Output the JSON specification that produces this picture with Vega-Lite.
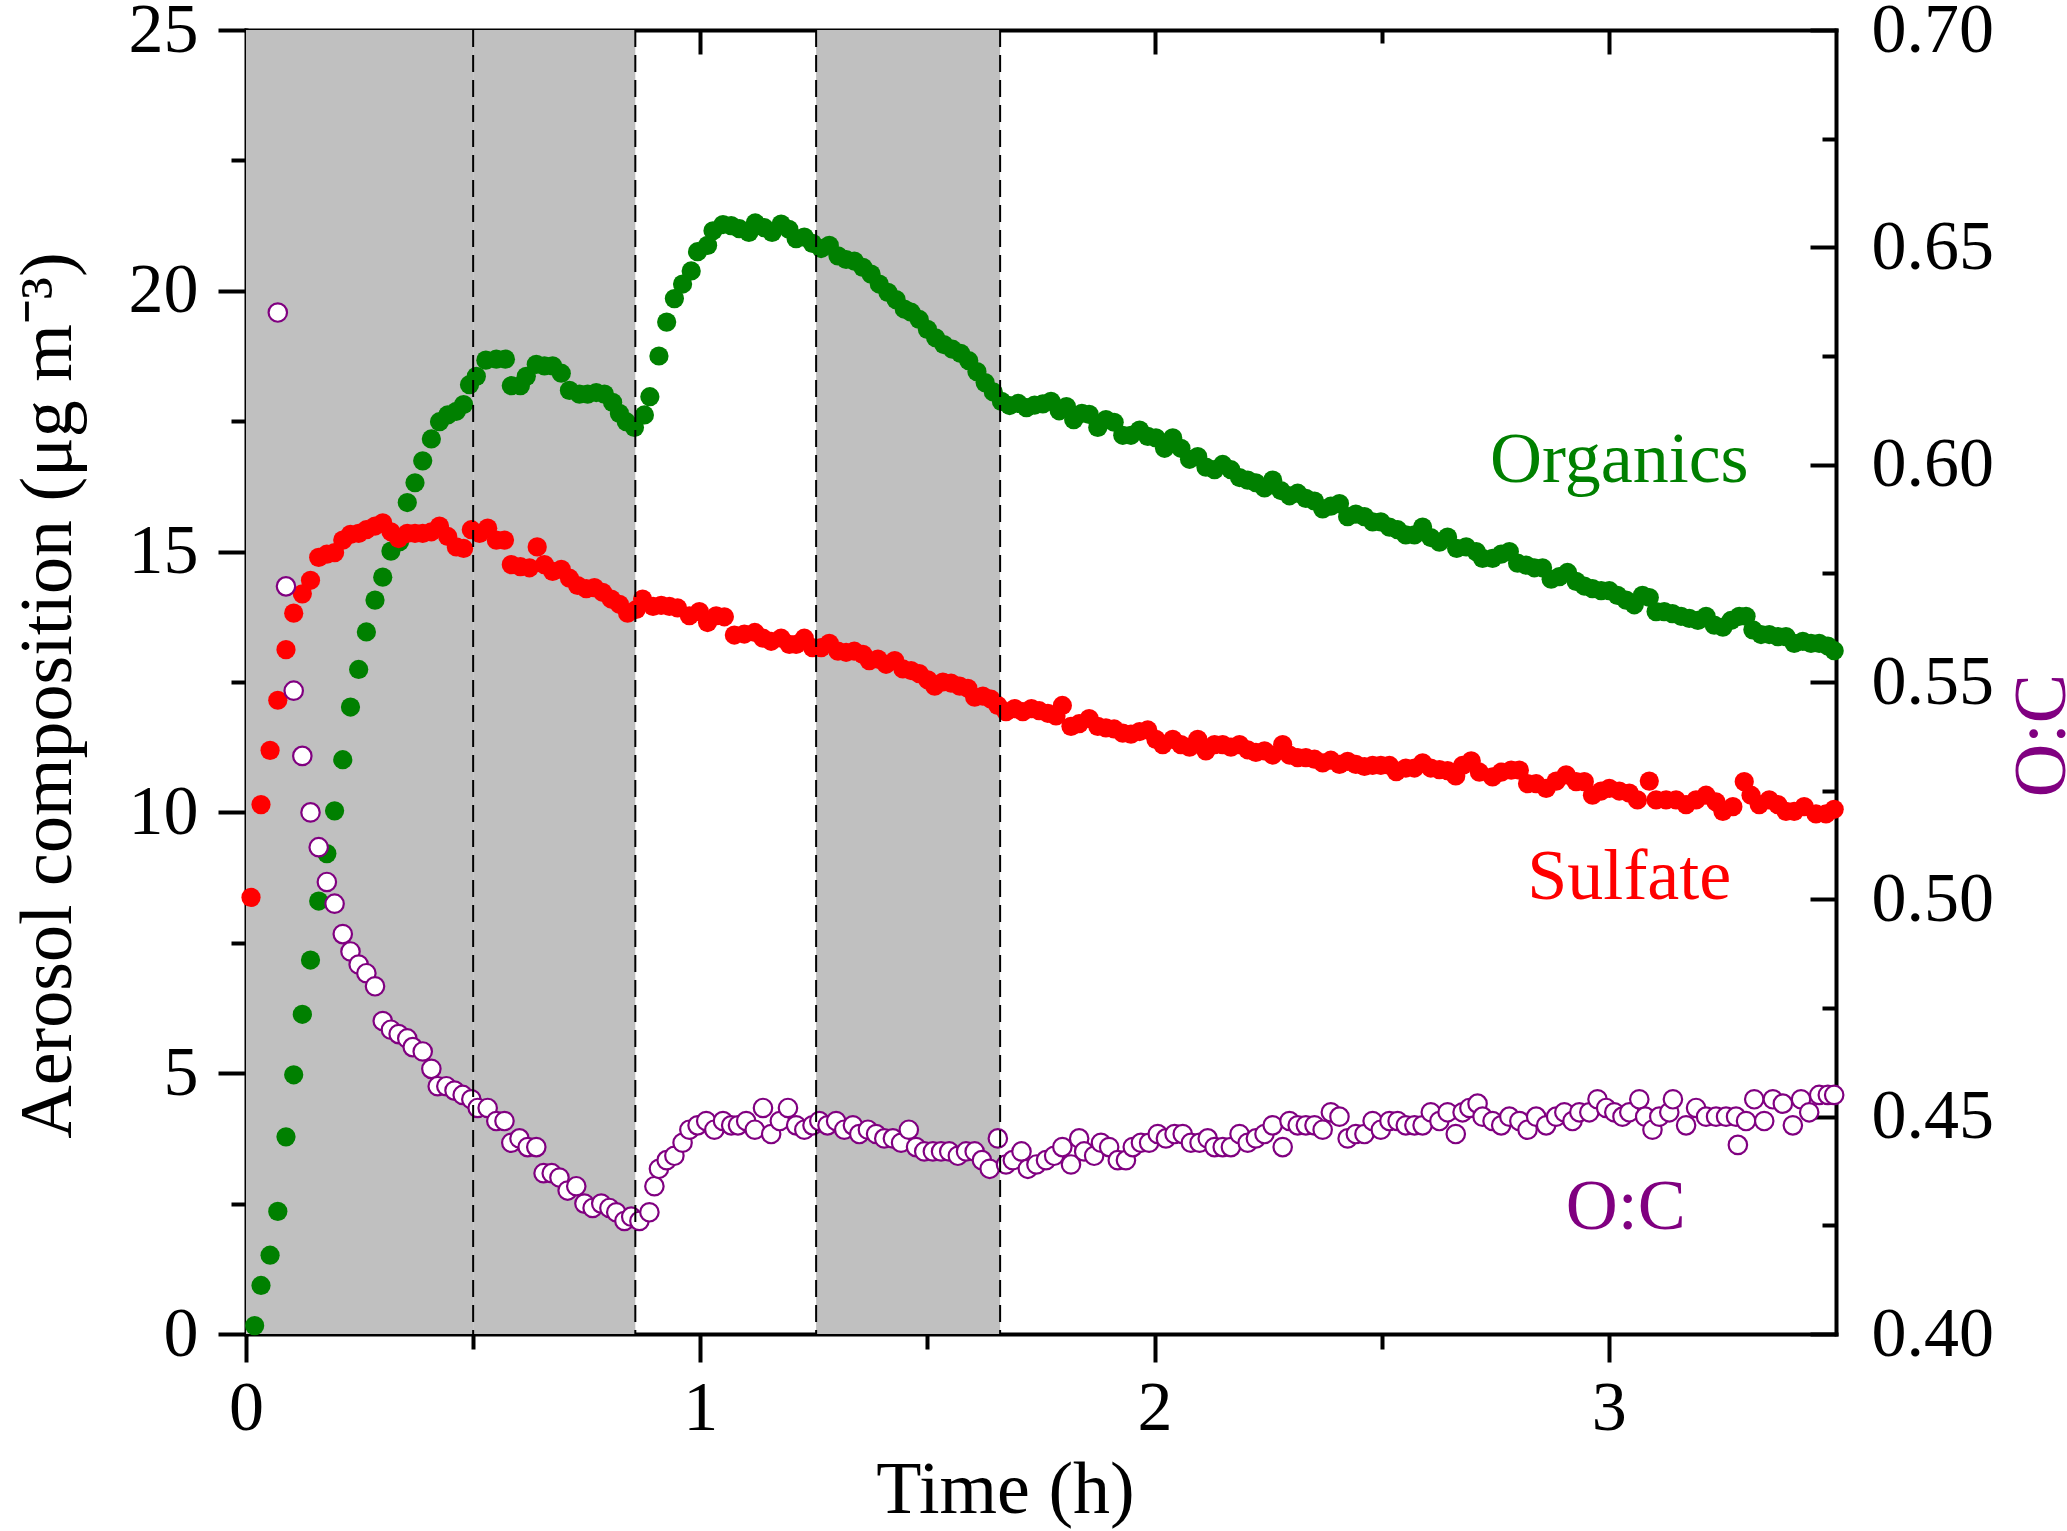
{
  "$schema": "https://vega.github.io/schema/vega-lite/v6.json",
  "width": 1590,
  "height": 1304,
  "autosize": {"type": "none"},
  "padding": {"left": 246, "top": 30, "right": 231, "bottom": 197},
  "background": "white",
  "config": {
    "view": {"stroke": null},
    "font": "Liberation Serif",
    "axis": {
      "grid": false,
      "zindex": 1,
      "domainColor": "black",
      "domainWidth": 4,
      "domainCap": "square",
      "tickColor": "black",
      "tickWidth": 4,
      "labelFont": "Liberation Serif",
      "labelFontSize": 70,
      "labelColor": "black",
      "labelOverlap": false,
      "labelFlush": false,
      "titleFont": "Liberation Serif",
      "titleFontSize": 74,
      "titleFontWeight": "normal",
      "titleColor": "black"
    }
  },
  "datasets": {
    "shading": [
      {"start": 0, "end": 0.5},
      {"start": 0.5, "end": 0.857},
      {"start": 1.255, "end": 1.66}
    ],
    "markers": [{"t": 0.5}, {"t": 0.857}, {"t": 1.255}, {"t": 1.66}],
    "organics": [
      {"t":0.019,"v":0.16},{"t":0.033,"v":0.93},{"t":0.053,"v":1.51},{"t":0.070,"v":2.35},{"t":0.088,"v":3.78},{"t":0.105,"v":4.97},{"t":0.124,"v":6.13},{"t":0.142,"v":7.17},{"t":0.160,"v":8.30},{"t":0.178,"v":9.21},
      {"t":0.195,"v":10.03},{"t":0.213,"v":11.01},{"t":0.230,"v":12.02},{"t":0.248,"v":12.74},{"t":0.265,"v":13.46},{"t":0.284,"v":14.07},{"t":0.301,"v":14.51},{"t":0.319,"v":15.01},{"t":0.338,"v":15.19},{"t":0.355,"v":15.94},
      {"t":0.372,"v":16.32},{"t":0.389,"v":16.74},{"t":0.408,"v":17.16},{"t":0.426,"v":17.49},{"t":0.444,"v":17.62},{"t":0.463,"v":17.69},{"t":0.479,"v":17.82},{"t":0.492,"v":18.20},{"t":0.507,"v":18.36},{"t":0.528,"v":18.67},
      {"t":0.551,"v":18.69},{"t":0.571,"v":18.69},{"t":0.584,"v":18.18},{"t":0.604,"v":18.18},{"t":0.617,"v":18.36},{"t":0.639,"v":18.59},{"t":0.657,"v":18.56},{"t":0.675,"v":18.56},{"t":0.694,"v":18.42},{"t":0.712,"v":18.09},
      {"t":0.734,"v":18.02},{"t":0.752,"v":18.02},{"t":0.771,"v":18.05},{"t":0.789,"v":18.02},{"t":0.807,"v":17.86},{"t":0.822,"v":17.65},{"t":0.837,"v":17.49},{"t":0.855,"v":17.38},{"t":0.877,"v":17.62},{"t":0.889,"v":17.97},
      {"t":0.909,"v":18.75},{"t":0.926,"v":19.40},{"t":0.943,"v":19.85},{"t":0.961,"v":20.13},{"t":0.980,"v":20.38},{"t":0.994,"v":20.75},{"t":1.016,"v":20.87},{"t":1.028,"v":21.15},{"t":1.050,"v":21.27},{"t":1.068,"v":21.25},
      {"t":1.086,"v":21.19},{"t":1.107,"v":21.12},{"t":1.121,"v":21.30},{"t":1.141,"v":21.21},{"t":1.158,"v":21.12},{"t":1.178,"v":21.28},{"t":1.195,"v":21.18},{"t":1.211,"v":21.00},{"t":1.229,"v":21.03},{"t":1.247,"v":20.91},
      {"t":1.266,"v":20.81},{"t":1.284,"v":20.87},{"t":1.303,"v":20.67},{"t":1.321,"v":20.60},{"t":1.339,"v":20.57},{"t":1.358,"v":20.45},{"t":1.376,"v":20.32},{"t":1.394,"v":20.13},{"t":1.413,"v":19.97},{"t":1.431,"v":19.83},
      {"t":1.449,"v":19.65},{"t":1.464,"v":19.59},{"t":1.482,"v":19.45},{"t":1.500,"v":19.26},{"t":1.518,"v":19.10},{"t":1.536,"v":18.97},{"t":1.555,"v":18.88},{"t":1.573,"v":18.80},{"t":1.591,"v":18.66},{"t":1.609,"v":18.45},
      {"t":1.627,"v":18.24},{"t":1.645,"v":18.06},{"t":1.663,"v":17.88},{"t":1.681,"v":17.80},{"t":1.700,"v":17.84},{"t":1.718,"v":17.76},{"t":1.736,"v":17.81},{"t":1.754,"v":17.83},{"t":1.772,"v":17.88},{"t":1.790,"v":17.70},
      {"t":1.806,"v":17.78},{"t":1.822,"v":17.53},{"t":1.840,"v":17.65},{"t":1.856,"v":17.63},{"t":1.875,"v":17.38},{"t":1.893,"v":17.53},{"t":1.911,"v":17.48},{"t":1.930,"v":17.23},{"t":1.948,"v":17.23},{"t":1.967,"v":17.33},
      {"t":1.985,"v":17.21},{"t":2.003,"v":17.18},{"t":2.022,"v":16.98},{"t":2.040,"v":17.18},{"t":2.058,"v":16.98},{"t":2.077,"v":16.77},{"t":2.095,"v":16.82},{"t":2.113,"v":16.62},{"t":2.132,"v":16.57},{"t":2.150,"v":16.67},
      {"t":2.168,"v":16.57},{"t":2.187,"v":16.42},{"t":2.205,"v":16.37},{"t":2.223,"v":16.32},{"t":2.242,"v":16.22},{"t":2.260,"v":16.37},{"t":2.278,"v":16.17},{"t":2.297,"v":16.07},{"t":2.315,"v":16.12},{"t":2.333,"v":16.02},
      {"t":2.352,"v":15.97},{"t":2.370,"v":15.82},{"t":2.388,"v":15.87},{"t":2.407,"v":15.92},{"t":2.425,"v":15.67},{"t":2.443,"v":15.72},{"t":2.462,"v":15.67},{"t":2.480,"v":15.57},{"t":2.498,"v":15.57},{"t":2.517,"v":15.47},
      {"t":2.535,"v":15.42},{"t":2.553,"v":15.32},{"t":2.572,"v":15.32},{"t":2.590,"v":15.47},{"t":2.608,"v":15.27},{"t":2.627,"v":15.18},{"t":2.645,"v":15.28},{"t":2.665,"v":15.06},{"t":2.686,"v":15.09},{"t":2.708,"v":15.00},
      {"t":2.722,"v":14.87},{"t":2.744,"v":14.87},{"t":2.763,"v":14.95},{"t":2.781,"v":15.00},{"t":2.799,"v":14.78},{"t":2.818,"v":14.74},{"t":2.836,"v":14.69},{"t":2.854,"v":14.69},{"t":2.873,"v":14.47},{"t":2.891,"v":14.52},
      {"t":2.909,"v":14.60},{"t":2.928,"v":14.43},{"t":2.946,"v":14.34},{"t":2.964,"v":14.29},{"t":2.983,"v":14.25},{"t":3.001,"v":14.25},{"t":3.019,"v":14.16},{"t":3.038,"v":14.07},{"t":3.056,"v":13.98},{"t":3.074,"v":14.16},
      {"t":3.089,"v":14.12},{"t":3.104,"v":13.85},{"t":3.122,"v":13.85},{"t":3.140,"v":13.81},{"t":3.159,"v":13.76},{"t":3.177,"v":13.72},{"t":3.196,"v":13.68},{"t":3.214,"v":13.76},{"t":3.232,"v":13.59},{"t":3.251,"v":13.55},
      {"t":3.269,"v":13.68},{"t":3.287,"v":13.76},{"t":3.302,"v":13.76},{"t":3.317,"v":13.50},{"t":3.335,"v":13.41},{"t":3.353,"v":13.41},{"t":3.372,"v":13.37},{"t":3.390,"v":13.37},{"t":3.408,"v":13.24},{"t":3.427,"v":13.28},
      {"t":3.445,"v":13.24},{"t":3.463,"v":13.24},{"t":3.482,"v":13.19},{"t":3.496,"v":13.10}
    ],
    "sulfate": [
      {"t":0.011,"v":8.37},{"t":0.033,"v":10.15},{"t":0.053,"v":11.19},{"t":0.070,"v":12.15},{"t":0.088,"v":13.12},{"t":0.105,"v":13.82},{"t":0.124,"v":14.19},{"t":0.142,"v":14.45},{"t":0.160,"v":14.89},{"t":0.178,"v":14.95},
      {"t":0.195,"v":14.98},{"t":0.213,"v":15.22},{"t":0.230,"v":15.33},{"t":0.248,"v":15.35},{"t":0.265,"v":15.42},{"t":0.284,"v":15.49},{"t":0.301,"v":15.55},{"t":0.319,"v":15.38},{"t":0.336,"v":15.25},{"t":0.355,"v":15.35},
      {"t":0.372,"v":15.35},{"t":0.389,"v":15.35},{"t":0.408,"v":15.38},{"t":0.426,"v":15.49},{"t":0.444,"v":15.29},{"t":0.463,"v":15.09},{"t":0.479,"v":15.06},{"t":0.496,"v":15.42},{"t":0.514,"v":15.35},{"t":0.532,"v":15.45},
      {"t":0.551,"v":15.22},{"t":0.569,"v":15.22},{"t":0.584,"v":14.75},{"t":0.604,"v":14.71},{"t":0.624,"v":14.69},{"t":0.641,"v":15.09},{"t":0.657,"v":14.75},{"t":0.675,"v":14.62},{"t":0.694,"v":14.66},{"t":0.712,"v":14.49},
      {"t":0.730,"v":14.35},{"t":0.749,"v":14.29},{"t":0.767,"v":14.31},{"t":0.785,"v":14.22},{"t":0.804,"v":14.09},{"t":0.822,"v":13.99},{"t":0.840,"v":13.82},{"t":0.859,"v":13.89},{"t":0.873,"v":14.09},{"t":0.896,"v":13.95},
      {"t":0.914,"v":13.97},{"t":0.932,"v":13.95},{"t":0.950,"v":13.92},{"t":0.976,"v":13.77},{"t":0.998,"v":13.85},{"t":1.016,"v":13.64},{"t":1.035,"v":13.77},{"t":1.053,"v":13.75},{"t":1.075,"v":13.40},{"t":1.097,"v":13.42},
      {"t":1.120,"v":13.45},{"t":1.138,"v":13.34},{"t":1.156,"v":13.28},{"t":1.178,"v":13.34},{"t":1.196,"v":13.22},{"t":1.211,"v":13.22},{"t":1.229,"v":13.34},{"t":1.247,"v":13.16},{"t":1.266,"v":13.16},{"t":1.284,"v":13.24},
      {"t":1.303,"v":13.09},{"t":1.321,"v":13.07},{"t":1.339,"v":13.09},{"t":1.358,"v":13.03},{"t":1.372,"v":12.91},{"t":1.391,"v":12.94},{"t":1.409,"v":12.84},{"t":1.428,"v":12.91},{"t":1.446,"v":12.75},{"t":1.464,"v":12.72},
      {"t":1.482,"v":12.66},{"t":1.501,"v":12.54},{"t":1.516,"v":12.42},{"t":1.534,"v":12.50},{"t":1.552,"v":12.48},{"t":1.571,"v":12.42},{"t":1.589,"v":12.38},{"t":1.604,"v":12.21},{"t":1.622,"v":12.23},{"t":1.640,"v":12.17},
      {"t":1.655,"v":12.05},{"t":1.673,"v":11.93},{"t":1.692,"v":11.99},{"t":1.710,"v":11.93},{"t":1.729,"v":11.99},{"t":1.746,"v":11.95},{"t":1.765,"v":11.90},{"t":1.783,"v":11.85},{"t":1.797,"v":12.05},{"t":1.816,"v":11.65},
      {"t":1.834,"v":11.70},{"t":1.856,"v":11.80},{"t":1.875,"v":11.65},{"t":1.893,"v":11.62},{"t":1.911,"v":11.60},{"t":1.930,"v":11.52},{"t":1.948,"v":11.50},{"t":1.967,"v":11.55},{"t":1.985,"v":11.58},{"t":2.003,"v":11.40},
      {"t":2.018,"v":11.30},{"t":2.040,"v":11.40},{"t":2.058,"v":11.30},{"t":2.077,"v":11.25},{"t":2.095,"v":11.40},{"t":2.113,"v":11.18},{"t":2.132,"v":11.30},{"t":2.150,"v":11.30},{"t":2.168,"v":11.25},{"t":2.187,"v":11.30},
      {"t":2.205,"v":11.20},{"t":2.223,"v":11.15},{"t":2.242,"v":11.18},{"t":2.260,"v":11.10},{"t":2.282,"v":11.30},{"t":2.297,"v":11.10},{"t":2.315,"v":11.05},{"t":2.333,"v":11.05},{"t":2.352,"v":11.02},{"t":2.370,"v":10.95},
      {"t":2.388,"v":11.00},{"t":2.407,"v":10.92},{"t":2.425,"v":10.98},{"t":2.443,"v":10.92},{"t":2.462,"v":10.88},{"t":2.480,"v":10.90},{"t":2.498,"v":10.90},{"t":2.517,"v":10.90},{"t":2.532,"v":10.78},{"t":2.553,"v":10.85},
      {"t":2.572,"v":10.85},{"t":2.590,"v":10.95},{"t":2.608,"v":10.85},{"t":2.627,"v":10.82},{"t":2.645,"v":10.80},{"t":2.663,"v":10.70},{"t":2.678,"v":10.90},{"t":2.697,"v":10.99},{"t":2.715,"v":10.77},{"t":2.744,"v":10.68},
      {"t":2.763,"v":10.77},{"t":2.785,"v":10.81},{"t":2.803,"v":10.81},{"t":2.821,"v":10.55},{"t":2.840,"v":10.55},{"t":2.862,"v":10.46},{"t":2.884,"v":10.60},{"t":2.906,"v":10.72},{"t":2.928,"v":10.59},{"t":2.946,"v":10.59},
      {"t":2.964,"v":10.33},{"t":2.983,"v":10.41},{"t":3.001,"v":10.46},{"t":3.023,"v":10.41},{"t":3.045,"v":10.37},{"t":3.063,"v":10.24},{"t":3.089,"v":10.60},{"t":3.104,"v":10.24},{"t":3.126,"v":10.24},{"t":3.148,"v":10.24},
      {"t":3.170,"v":10.15},{"t":3.192,"v":10.24},{"t":3.214,"v":10.33},{"t":3.236,"v":10.20},{"t":3.251,"v":10.02},{"t":3.273,"v":10.11},{"t":3.298,"v":10.59},{"t":3.313,"v":10.33},{"t":3.331,"v":10.15},{"t":3.353,"v":10.24},
      {"t":3.372,"v":10.15},{"t":3.390,"v":10.02},{"t":3.408,"v":10.02},{"t":3.430,"v":10.11},{"t":3.456,"v":9.97},{"t":3.478,"v":9.97},{"t":3.496,"v":10.06}
    ],
    "oc": [
      {"t":0.070,"oc":0.635},{"t":0.088,"oc":0.572},{"t":0.105,"oc":0.548},{"t":0.124,"oc":0.533},{"t":0.142,"oc":0.520},{"t":0.160,"oc":0.512},{"t":0.178,"oc":0.504},{"t":0.195,"oc":0.499},{"t":0.213,"oc":0.492},{"t":0.230,"oc":0.488},
      {"t":0.248,"oc":0.485},{"t":0.265,"oc":0.483},{"t":0.284,"oc":0.480},{"t":0.301,"oc":0.472},{"t":0.319,"oc":0.470},{"t":0.336,"oc":0.469},{"t":0.355,"oc":0.468},{"t":0.367,"oc":0.466},{"t":0.389,"oc":0.465},{"t":0.408,"oc":0.461},
      {"t":0.422,"oc":0.457},{"t":0.441,"oc":0.457},{"t":0.459,"oc":0.456},{"t":0.477,"oc":0.455},{"t":0.496,"oc":0.454},{"t":0.510,"oc":0.452},{"t":0.532,"oc":0.452},{"t":0.551,"oc":0.449},{"t":0.569,"oc":0.449},{"t":0.584,"oc":0.444},
      {"t":0.602,"oc":0.445},{"t":0.620,"oc":0.443},{"t":0.639,"oc":0.443},{"t":0.655,"oc":0.437},{"t":0.673,"oc":0.437},{"t":0.690,"oc":0.436},{"t":0.708,"oc":0.433},{"t":0.727,"oc":0.434},{"t":0.745,"oc":0.430},{"t":0.763,"oc":0.429},
      {"t":0.782,"oc":0.430},{"t":0.800,"oc":0.429},{"t":0.815,"oc":0.428},{"t":0.833,"oc":0.426},{"t":0.848,"oc":0.427},{"t":0.866,"oc":0.426},{"t":0.888,"oc":0.428},{"t":0.899,"oc":0.434},{"t":0.909,"oc":0.438},{"t":0.926,"oc":0.440},
      {"t":0.943,"oc":0.441},{"t":0.961,"oc":0.444},{"t":0.976,"oc":0.447},{"t":0.994,"oc":0.448},{"t":1.013,"oc":0.449},{"t":1.031,"oc":0.447},{"t":1.050,"oc":0.449},{"t":1.068,"oc":0.448},{"t":1.083,"oc":0.448},{"t":1.101,"oc":0.449},
      {"t":1.120,"oc":0.447},{"t":1.138,"oc":0.452},{"t":1.156,"oc":0.446},{"t":1.175,"oc":0.449},{"t":1.193,"oc":0.452},{"t":1.211,"oc":0.448},{"t":1.229,"oc":0.447},{"t":1.247,"oc":0.448},{"t":1.262,"oc":0.449},{"t":1.280,"oc":0.448},
      {"t":1.299,"oc":0.449},{"t":1.317,"oc":0.447},{"t":1.336,"oc":0.448},{"t":1.350,"oc":0.446},{"t":1.369,"oc":0.447},{"t":1.387,"oc":0.446},{"t":1.405,"oc":0.445},{"t":1.424,"oc":0.445},{"t":1.442,"oc":0.444},{"t":1.459,"oc":0.447},
      {"t":1.475,"oc":0.443},{"t":1.493,"oc":0.442},{"t":1.512,"oc":0.442},{"t":1.530,"oc":0.442},{"t":1.548,"oc":0.442},{"t":1.567,"oc":0.441},{"t":1.585,"oc":0.442},{"t":1.604,"oc":0.442},{"t":1.620,"oc":0.440},{"t":1.637,"oc":0.438},
      {"t":1.655,"oc":0.445},{"t":1.673,"oc":0.439},{"t":1.688,"oc":0.440},{"t":1.707,"oc":0.442},{"t":1.721,"oc":0.438},{"t":1.740,"oc":0.439},{"t":1.761,"oc":0.440},{"t":1.779,"oc":0.441},{"t":1.797,"oc":0.443},{"t":1.816,"oc":0.439},
      {"t":1.834,"oc":0.445},{"t":1.845,"oc":0.442},{"t":1.867,"oc":0.441},{"t":1.882,"oc":0.444},{"t":1.900,"oc":0.443},{"t":1.919,"oc":0.440},{"t":1.937,"oc":0.440},{"t":1.952,"oc":0.443},{"t":1.970,"oc":0.444},{"t":1.988,"oc":0.444},
      {"t":2.007,"oc":0.446},{"t":2.025,"oc":0.445},{"t":2.044,"oc":0.446},{"t":2.062,"oc":0.446},{"t":2.080,"oc":0.444},{"t":2.099,"oc":0.444},{"t":2.117,"oc":0.445},{"t":2.132,"oc":0.443},{"t":2.150,"oc":0.443},{"t":2.168,"oc":0.443},
      {"t":2.187,"oc":0.446},{"t":2.205,"oc":0.444},{"t":2.223,"oc":0.445},{"t":2.242,"oc":0.446},{"t":2.260,"oc":0.448},{"t":2.282,"oc":0.443},{"t":2.297,"oc":0.449},{"t":2.315,"oc":0.448},{"t":2.333,"oc":0.448},{"t":2.352,"oc":0.448},
      {"t":2.370,"oc":0.447},{"t":2.388,"oc":0.451},{"t":2.407,"oc":0.450},{"t":2.425,"oc":0.445},{"t":2.443,"oc":0.446},{"t":2.462,"oc":0.446},{"t":2.480,"oc":0.449},{"t":2.498,"oc":0.447},{"t":2.517,"oc":0.449},{"t":2.535,"oc":0.449},
      {"t":2.553,"oc":0.448},{"t":2.572,"oc":0.448},{"t":2.590,"oc":0.448},{"t":2.608,"oc":0.451},{"t":2.627,"oc":0.449},{"t":2.645,"oc":0.451},{"t":2.663,"oc":0.446},{"t":2.678,"oc":0.451},{"t":2.693,"oc":0.452},{"t":2.711,"oc":0.453},
      {"t":2.722,"oc":0.450},{"t":2.744,"oc":0.449},{"t":2.763,"oc":0.448},{"t":2.781,"oc":0.450},{"t":2.803,"oc":0.449},{"t":2.821,"oc":0.447},{"t":2.840,"oc":0.450},{"t":2.862,"oc":0.448},{"t":2.884,"oc":0.450},{"t":2.902,"oc":0.451},
      {"t":2.920,"oc":0.449},{"t":2.935,"oc":0.451},{"t":2.957,"oc":0.451},{"t":2.975,"oc":0.454},{"t":2.994,"oc":0.452},{"t":3.012,"oc":0.451},{"t":3.030,"oc":0.450},{"t":3.045,"oc":0.451},{"t":3.067,"oc":0.454},{"t":3.080,"oc":0.450},
      {"t":3.096,"oc":0.447},{"t":3.111,"oc":0.450},{"t":3.133,"oc":0.451},{"t":3.141,"oc":0.454},{"t":3.170,"oc":0.448},{"t":3.192,"oc":0.452},{"t":3.214,"oc":0.450},{"t":3.236,"oc":0.450},{"t":3.258,"oc":0.450},{"t":3.280,"oc":0.450},
      {"t":3.284,"oc":0.4435},{"t":3.302,"oc":0.449},{"t":3.320,"oc":0.454},{"t":3.342,"oc":0.449},{"t":3.361,"oc":0.454},{"t":3.383,"oc":0.453},{"t":3.405,"oc":0.448},{"t":3.423,"oc":0.454},{"t":3.441,"oc":0.451},{"t":3.463,"oc":0.455},
      {"t":3.482,"oc":0.455},{"t":3.496,"oc":0.455}
    ],
    "labels": [
      {"label": "Organics", "t": 3.023, "v": 16.34},
      {"label": "Sulfate", "t": 3.045, "v": 8.34}
    ],
    "oclabel": [{"label": "O:C", "t": 3.037, "oc": 0.4241}]
  },
  "layer": [
    {
      "data": {"name": "shading"},
      "mark": {"type": "rect", "fill": "#c0c0c0"},
      "encoding": {
        "x": {
          "field": "start", "type": "quantitative",
          "scale": {"domain": [0, 3.5], "nice": false, "zero": false},
          "axis": {
            "orient": "bottom", "values": [0, 1, 2, 3], "tickSize": 28, "labelPadding": 12,
            "title": "Time (h)", "titleX": 759, "titleY": 178, "titleBaseline": "alphabetic", "titleAlign": "center"
          }
        },
        "x2": {"field": "end"}
      }
    },
    {
      "data": {"name": "organics"},
      "mark": {"type": "circle", "size": 370, "color": "#008000", "opacity": 1},
      "encoding": {
        "x": {
          "field": "t", "type": "quantitative",
          "axis": {"orient": "top", "values": [1, 2, 3], "tickSize": -24, "labels": false, "title": null}
        },
        "y": {
          "field": "v", "type": "quantitative",
          "scale": {"domain": [0, 25], "nice": false},
          "axis": {
            "orient": "left", "values": [0, 5, 10, 15, 20, 25], "tickSize": 28, "labelPadding": 20,
            "title": "Aerosol composition (μg m⁻³)", "titleX": -160, "titleY": 665,
            "titleAngle": 270, "titleBaseline": "bottom", "titleAlign": "center"
          }
        }
      }
    },
    {
      "data": {"name": "sulfate"},
      "mark": {"type": "circle", "size": 370, "color": "#ff0000", "opacity": 1},
      "encoding": {
        "x": {
          "field": "t", "type": "quantitative",
          "axis": {"orient": "bottom", "values": [0.5, 1.5, 2.5], "tickSize": 15, "labels": false, "domain": false, "title": null}
        },
        "y": {
          "field": "v", "type": "quantitative",
          "scale": {"domain": [0, 25], "nice": false},
          "axis": {"orient": "left", "values": [2.5, 7.5, 12.5, 17.5, 22.5], "tickSize": 15, "labels": false, "domain": false, "title": null}
        }
      }
    },
    {
      "data": {"name": "oc"},
      "mark": {"type": "point", "shape": "circle", "size": 340, "fill": "white", "fillOpacity": 1, "stroke": "#800080", "strokeWidth": 2.2, "opacity": 1},
      "encoding": {
        "x": {
          "field": "t", "type": "quantitative",
          "axis": {"orient": "top", "values": [0.5, 1.5, 2.5], "tickSize": -13, "labels": false, "domain": false, "title": null}
        },
        "y": {
          "field": "oc", "type": "quantitative",
          "scale": {"domain": [0.4, 0.7], "nice": false, "zero": false},
          "axis": {
            "orient": "right", "values": [0.4, 0.45, 0.5, 0.55, 0.6, 0.65, 0.7], "format": ".2f",
            "tickSize": -26, "labelPadding": 61,
            "title": "O:C", "titleColor": "#800080", "titleX": 170, "titleY": 705,
            "titleAngle": 270, "titleBaseline": "top", "titleAlign": "center"
          }
        }
      }
    },
    {
      "data": {"name": "markers"},
      "mark": {"type": "rule", "color": "black", "strokeWidth": 2, "strokeDash": [17, 8]},
      "encoding": {
        "x": {"field": "t", "type": "quantitative", "axis": null}
      }
    },
    {
      "data": {"name": "labels"},
      "mark": {"type": "text", "font": "Liberation Serif", "fontSize": 72, "align": "center", "baseline": "alphabetic"},
      "encoding": {
        "x": {"field": "t", "type": "quantitative", "axis": null},
        "y": {"field": "v", "type": "quantitative", "scale": {"domain": [0, 25], "nice": false}, "axis": null},
        "text": {"field": "label"},
        "color": {"field": "label", "type": "nominal", "scale": {"domain": ["Organics", "Sulfate"], "range": ["#008000", "#ff0000"]}, "legend": null}
      }
    },
    {
      "data": {"name": "oclabel"},
      "mark": {"type": "text", "font": "Liberation Serif", "fontSize": 72, "align": "center", "baseline": "alphabetic", "color": "#800080"},
      "encoding": {
        "x": {"field": "t", "type": "quantitative", "axis": null},
        "y": {
          "field": "oc", "type": "quantitative",
          "scale": {"domain": [0.4, 0.7], "nice": false, "zero": false},
          "axis": {"orient": "right", "values": [0.425, 0.475, 0.525, 0.575, 0.625, 0.675], "tickSize": -14, "labels": false, "domain": false, "title": null}
        },
        "text": {"field": "label"}
      }
    }
  ],
  "resolve": {
    "scale": {"y": "independent"},
    "axis": {"x": "independent", "y": "independent"}
  }
}
